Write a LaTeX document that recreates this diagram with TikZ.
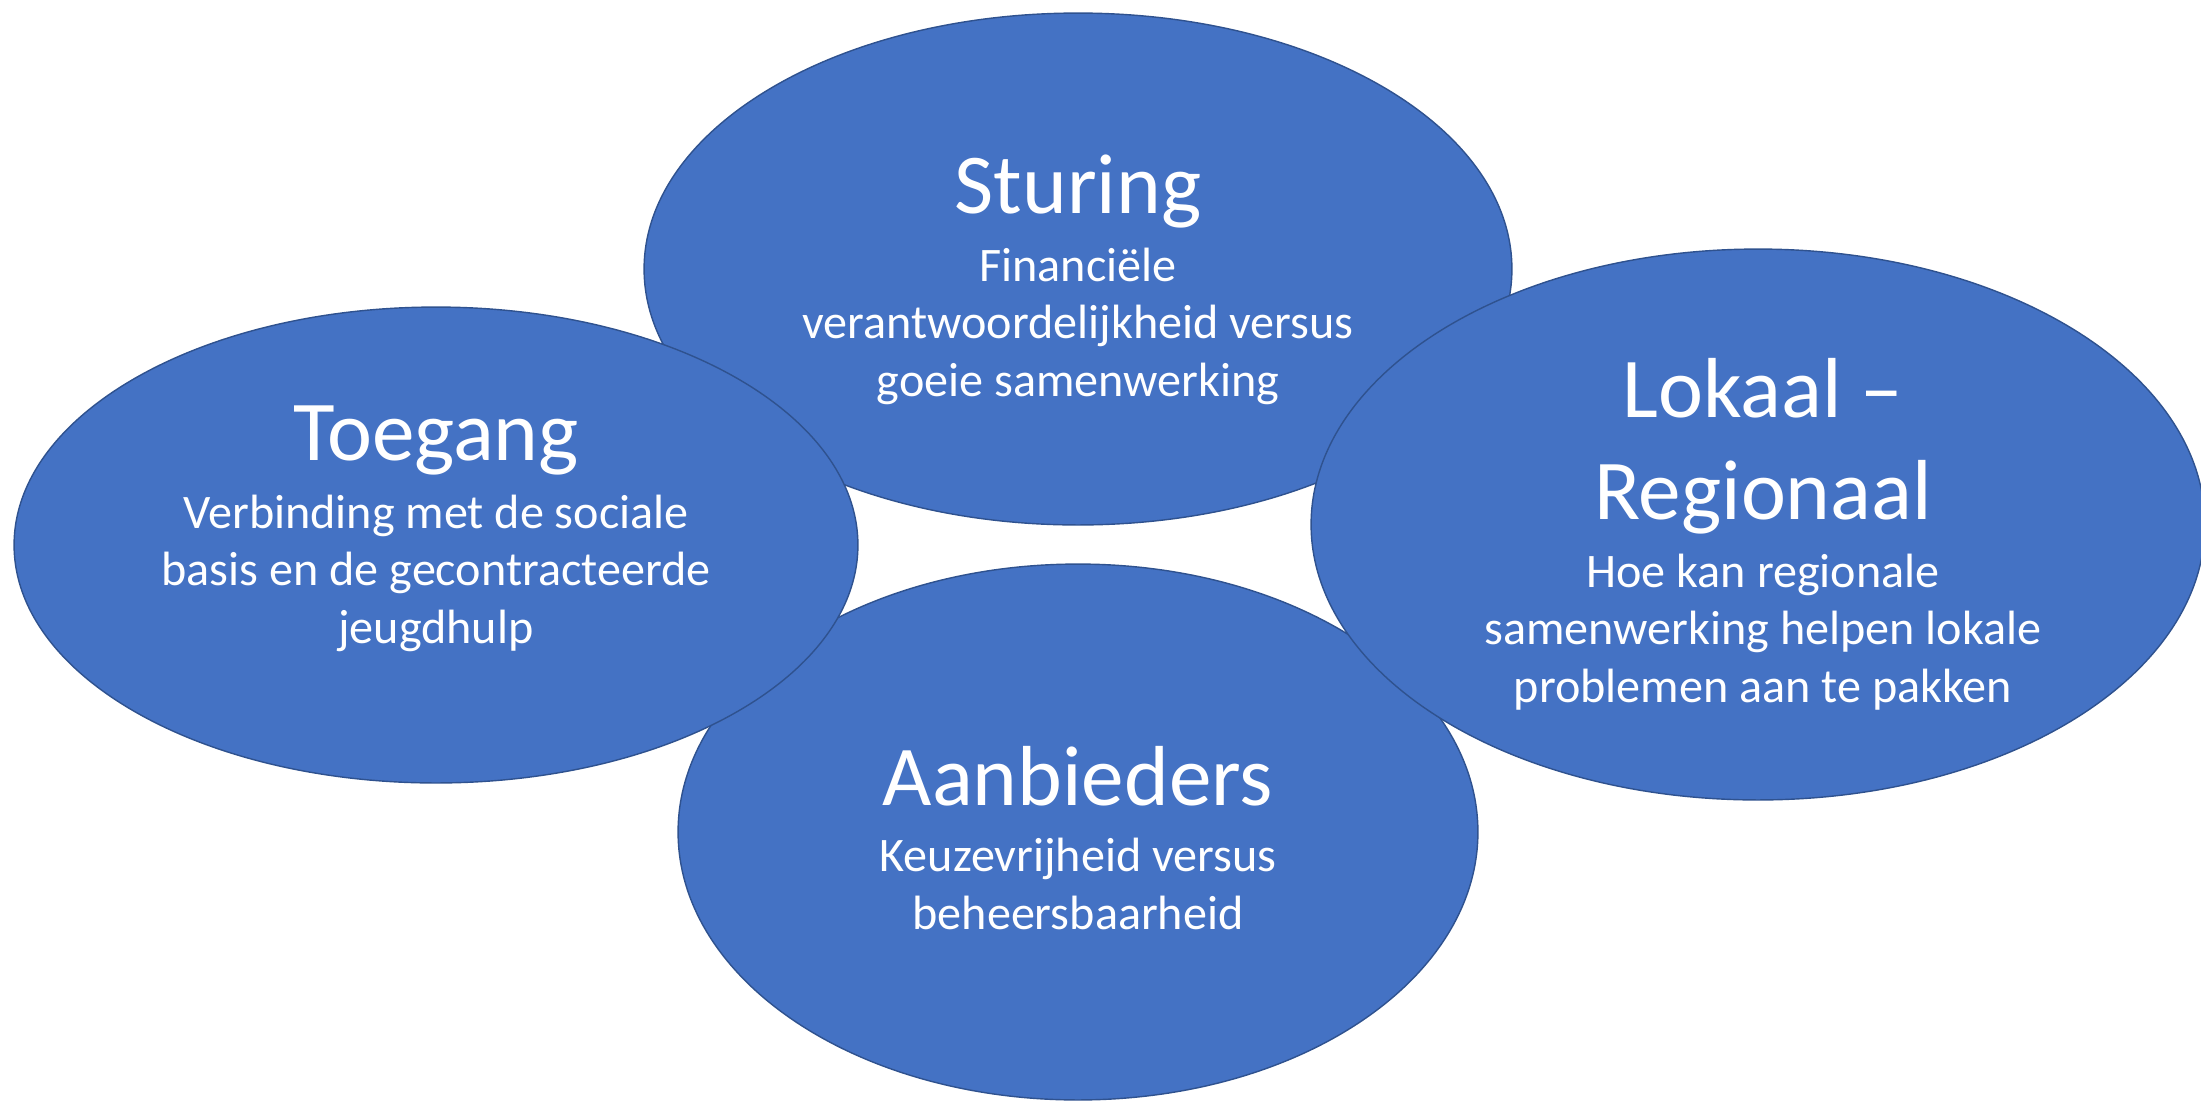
\documentclass[tikz,border=0pt]{standalone}
\usepackage{fontspec}
\setmainfont{Carlito}
\usetikzlibrary{shapes.geometric}

\definecolor{bubblefill}{HTML}{4472C4}
\definecolor{bubbleline}{HTML}{2F528F}

\tikzset{
  bubble/.style={ellipse, draw=bubbleline, fill=bubblefill, line width=0.8pt, inner sep=0pt},
  head/.style={text=white, anchor=base, align=center, font=\fontsize{48.5}{58}\selectfont},
  sub/.style={text=white, anchor=base, align=center, font=\fontsize{27.4}{32.7}\selectfont}
}

\begin{document}
\begin{tikzpicture}[x=0.02cm,y=-0.02cm]
\fill[white] (0,0) rectangle (2201,1100);
\useasboundingbox (0,0) rectangle (2201,1100);

% top (base = last line)
\node[bubble, minimum width=17.36cm, minimum height=10.24cm] (sturing) at (1078,269) {};
\node[head] (sturingkop) at (1078,213) {Sturing};
\node[sub] (sturingtekst) at (1078,396) {Financiële\\verantwoordelijkheid versus\\goeie samenwerking};

% bottom
\node[bubble, minimum width=16cm, minimum height=10.72cm] (aanbieders) at (1078,832) {};
\node[head] (aanbiederskop) at (1078,805) {Aanbieders};
\node[sub] (aanbiederstekst) at (1078,929) {Keuzevrijheid versus\\beheersbaarheid};

% left
\node[bubble, minimum width=16.88cm, minimum height=9.52cm] (toegang) at (436,545) {};
\node[head] (toegangkop) at (436,460) {Toegang};
\node[sub] (toegangtekst) at (436,643) {Verbinding met de sociale\\basis en de gecontracteerde\\jeugdhulp};

% right
\node[bubble, minimum width=17.88cm, minimum height=11.02cm] (lokaal) at (1758,524.5) {};
\node[head] (lokaalkop) at (1763,519) {Lokaal –\\Regionaal};
\node[sub] (lokaaltekst) at (1763,702) {Hoe kan regionale\\samenwerking helpen lokale\\problemen aan te pakken};
\end{tikzpicture}
\end{document}
